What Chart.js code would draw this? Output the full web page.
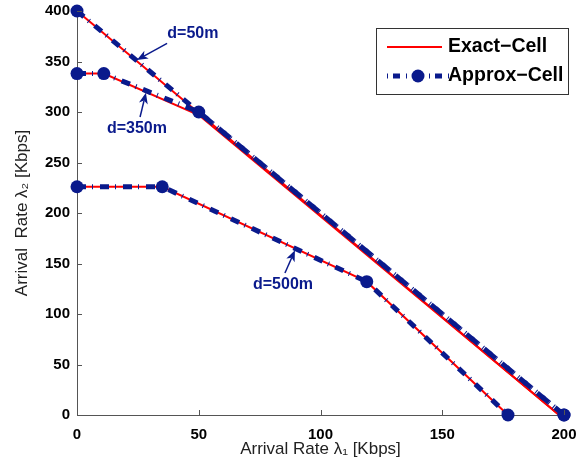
<!DOCTYPE html>
<html>
<head>
<meta charset="utf-8">
<script src="https://cdn.jsdelivr.net/npm/chart.js@4.4.1/dist/chart.umd.min.js"></script>
<style>
  html, body { margin: 0; padding: 0; background: #fff; }
  #wrap { width: 577px; height: 468px; }
</style>
</head>
<body>
<div id="wrap"><canvas id="chart"></canvas></div>
<script>
// arrival rate lambda1 / lambda2 points for each distance
const d50X = [0, 198];
const d50ExactY = [400, 0];
const d50ApproxX = [0, 200];
const d50ApproxY = [400, 0];

const d350X = [0, 11, 50, 198];
const d350ExactY = [338, 338, 297, 0];
const d350ApproxX = [0, 11, 50, 200];
const d350ApproxY = [338, 338, 300, 0];

const d500X = [0, 35, 119, 177];
const d500ExactY = [226, 226, 132, 0];
const d500ApproxY = [226, 226, 132, 0];

const xTicks = [0, 50, 100, 150, 200];
const yTicks = [0, 50, 100, 150, 200, 250, 300, 350, 400];

const seriesNames = ['Exact-Cell', 'Approx-Cell'];

// annotations: label, text position, arrow tail, arrow tip (data units)
const notes = [
    { text: 'd=50m',  at: [47.6, 378], from: [37, 368],   to: [24.6, 351.5] },
    { text: 'd=350m', at: [24.6, 284], from: [25.9, 295], to: [28.3, 319] },
    { text: 'd=500m', at: [84.6, 128.7], from: [85.4, 140.6], to: [89.5, 163] }
];

const RED = '#ff0000';
const NAVY = '#0a1a8c';
const DASH = [9, 6, 1, 7];

function pts(xs, ys) {
    return xs.map(function (x, i) { return { x: x, y: ys[i] }; });
}

function exactSet(xs, ys) {
    return {
        label: seriesNames[0],
        data: pts(xs, ys),
        borderColor: RED,
        borderWidth: 2,
        pointRadius: 0,
        fill: false,
        tension: 0,
        order: 2
    };
}

function approxSet(xs, ys) {
    return {
        label: seriesNames[1],
        data: pts(xs, ys),
        borderColor: NAVY,
        borderWidth: 5,
        borderDash: DASH,
        borderCapStyle: 'butt',
        pointRadius: 6.5,
        pointBackgroundColor: NAVY,
        pointBorderColor: NAVY,
        pointBorderWidth: 0,
        fill: false,
        tension: 0,
        order: 1
    };
}

// ticks pointing into the plot, like the original
const insideTicks = {
    id: 'insideTicks',
    afterDatasetsDraw(chart) {
        const ctx = chart.ctx;
        const xs = chart.scales.x, ys = chart.scales.y;
        const a = chart.chartArea;
        ctx.save();
        ctx.strokeStyle = '#555';
        ctx.lineWidth = 1;
        ctx.beginPath();
        xTicks.forEach(function (v) {
            const px = Math.round(xs.getPixelForValue(v)) + 0.5;
            ctx.moveTo(px, a.bottom);
            ctx.lineTo(px, a.bottom - 5);
        });
        yTicks.forEach(function (v) {
            const py = Math.round(ys.getPixelForValue(v)) + 0.5;
            ctx.moveTo(a.left, py);
            ctx.lineTo(a.left + 5, py);
        });
        ctx.stroke();
        ctx.restore();
    }
};

function arrow(ctx, x1, y1, x2, y2) {
    const ang = Math.atan2(y2 - y1, x2 - x1);
    const len = 11, wid = 4.5;
    const bx = x2 - len * Math.cos(ang), by = y2 - len * Math.sin(ang);
    ctx.beginPath();
    ctx.moveTo(x1, y1);
    ctx.lineTo(bx + 3 * Math.cos(ang), by + 3 * Math.sin(ang));
    ctx.stroke();
    ctx.beginPath();
    ctx.moveTo(x2, y2);
    ctx.lineTo(bx - wid * Math.sin(ang), by + wid * Math.cos(ang));
    ctx.lineTo(bx + 3 * Math.cos(ang), by + 3 * Math.sin(ang));
    ctx.lineTo(bx + wid * Math.sin(ang), by - wid * Math.cos(ang));
    ctx.closePath();
    ctx.fill();
}

const annotations = {
    id: 'annotations',
    afterDatasetsDraw(chart) {
        const ctx = chart.ctx;
        const xs = chart.scales.x, ys = chart.scales.y;
        ctx.save();
        ctx.fillStyle = NAVY;
        ctx.strokeStyle = NAVY;
        ctx.lineWidth = 1.5;
        ctx.font = 'bold 16px "Liberation Sans", Arial, sans-serif';
        ctx.textAlign = 'center';
        ctx.textBaseline = 'middle';
        notes.forEach(function (n) {
            ctx.fillText(n.text, xs.getPixelForValue(n.at[0]), ys.getPixelForValue(n.at[1]));
            arrow(ctx,
                xs.getPixelForValue(n.from[0]), ys.getPixelForValue(n.from[1]),
                xs.getPixelForValue(n.to[0]), ys.getPixelForValue(n.to[1]));
        });
        ctx.restore();
    }
};

// boxed legend in the top right corner
const boxLegend = {
    id: 'boxLegend',
    afterDraw(chart) {
        const ctx = chart.ctx;
        const left = 376, top = 28, right = 568, bottom = 94;
        ctx.save();
        ctx.fillStyle = '#fff';
        ctx.fillRect(left, top, right - left, bottom - top);
        ctx.strokeStyle = '#333';
        ctx.lineWidth = 1;
        ctx.strokeRect(left + 0.5, top + 0.5, right - left, bottom - top);

        const y1 = 47, y2 = 76;
        ctx.strokeStyle = RED;
        ctx.lineWidth = 2;
        ctx.beginPath();
        ctx.moveTo(387, y1);
        ctx.lineTo(442, y1);
        ctx.stroke();

        ctx.strokeStyle = NAVY;
        ctx.lineWidth = 5;
        ctx.lineCap = 'butt';
        ctx.setLineDash([1, 5, 7, 6, 1, 7, 9, 6]);
        ctx.beginPath();
        ctx.moveTo(387, y2);
        ctx.lineTo(450, y2);
        ctx.stroke();
        ctx.setLineDash([]);
        ctx.fillStyle = NAVY;
        ctx.beginPath();
        ctx.arc(418, y2, 6.5, 0, Math.PI * 2);
        ctx.fill();

        ctx.fillStyle = '#000';
        ctx.font = 'bold 19.5px "Liberation Sans", Arial, sans-serif';
        ctx.textAlign = 'left';
        ctx.textBaseline = 'middle';
        ctx.fillText(seriesNames[0].replace('-', '\u2212'), 448, y1);
        ctx.fillText(seriesNames[1].replace('-', '\u2212'), 448, y2);
        ctx.restore();
    }
};

const tickFont = { family: '"Liberation Sans", Arial, sans-serif', size: 15, weight: 'bold' };
const titleFont = { family: '"Liberation Sans", Arial, sans-serif', size: 17, weight: 'normal' };

new Chart(document.getElementById('chart'), {
    type: 'line',
    data: {
        datasets: [
            approxSet(d50ApproxX, d50ApproxY),
            approxSet(d350ApproxX, d350ApproxY),
            approxSet(d500X, d500ApproxY),
            exactSet(d50X, d50ExactY),
            exactSet(d350X, d350ExactY),
            exactSet(d500X, d500ExactY)
        ]
    },
    options: {
        responsive: true,
        maintainAspectRatio: false,
        animation: false,
        clip: false,
        layout: { padding: { top: 11, right: 13, left: 0, bottom: 0 } },
        scales: {
            x: {
                type: 'linear',
                min: 0,
                max: 200,
                afterBuildTicks: function (s) { s.ticks = xTicks.map(function (v) { return { value: v }; }); },
                afterFit: function (s) { s.height = 53; s.paddingLeft = 0; s.paddingRight = 0; },
                ticks: { font: tickFont, color: '#000', padding: 11, maxRotation: 0 },
                grid: { display: true, drawOnChartArea: false, drawTicks: false },
                border: { color: '#555', width: 1 },
                title: { display: true, text: 'Arrival Rate \u03bb\u2081 [Kbps]', font: titleFont, color: '#222', padding: { top: 0, bottom: 8 } }
            },
            y: {
                type: 'linear',
                min: 0,
                max: 400,
                afterBuildTicks: function (s) { s.ticks = yTicks.map(function (v) { return { value: v }; }); },
                afterFit: function (s) { s.width = 77; s.paddingTop = 0; s.paddingBottom = 0; },
                ticks: { font: tickFont, color: '#000', padding: 7 },
                grid: { display: true, drawOnChartArea: false, drawTicks: false },
                border: { color: '#555', width: 1 },
                title: { display: true, text: 'Arrival  Rate \u03bb\u2082 [Kbps]', font: titleFont, color: '#222', padding: { top: 12, bottom: 0 } }
            }
        },
        plugins: {
            legend: { display: false },
            tooltip: { enabled: false }
        }
    },
    plugins: [insideTicks, annotations, boxLegend]
});
</script>
</body>
</html>
